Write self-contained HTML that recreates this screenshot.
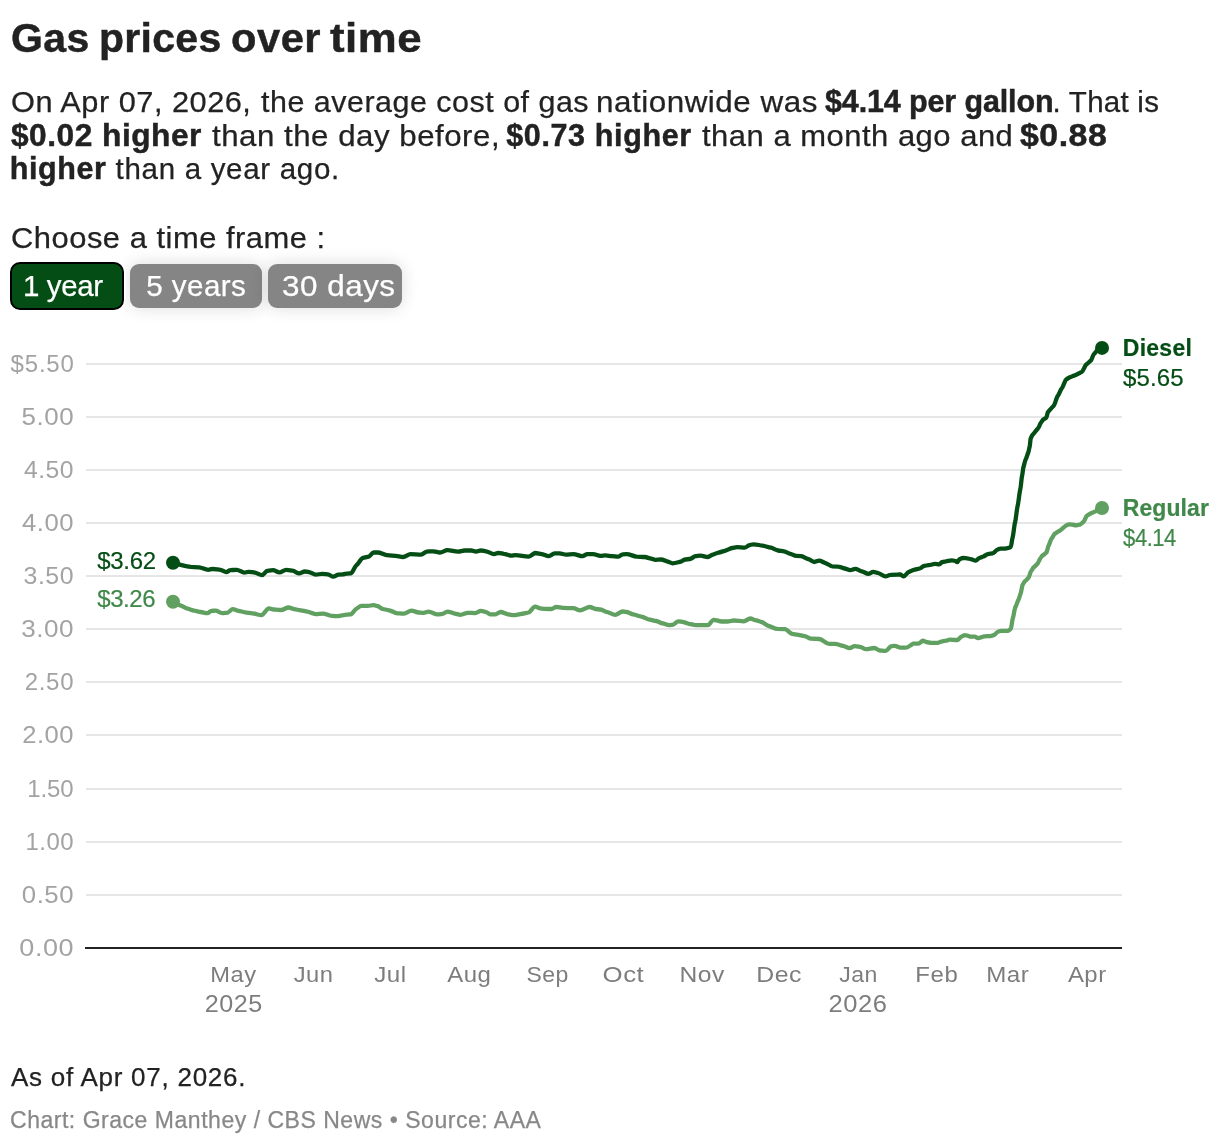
<!DOCTYPE html>
<html lang="en">
<head>
<meta charset="utf-8">
<title>Gas prices over time</title>
<style>
html,body{margin:0;padding:0;background:#fff;}
body{width:1220px;height:1146px;position:relative;overflow:hidden;font-family:"Liberation Sans",sans-serif;color:#222;}
h1,p{margin:0;font-weight:400;}
.t{position:absolute;white-space:pre;line-height:1;transform-origin:0 0;-webkit-text-stroke:0.25px currentColor;}
h1 .t{-webkit-text-stroke-width:0.45px;}
h1 .t{font-size:41px;font-weight:700;}
.intro .t,.choose .t,.btn .t{font-size:29.5px;}
b.t{font-weight:700;-webkit-text-stroke-width:0.45px;}
.intro b.t{font-size:30.5px;}
.btn{position:absolute;top:264px;height:44px;box-sizing:border-box;border-radius:9px;background:#858585;color:#fff;box-shadow:0 0 17px 0 rgba(0,0,0,.14);}
.btn.on{top:262px;height:48px;background:#044d14;border:2px solid #000;border-radius:10px;box-shadow:0 0 0 1.5px #fff;z-index:2;}
svg{position:absolute;left:0;top:0;}
svg text{white-space:pre;stroke-width:0.2px;}
.notes .t{font-size:26px;}
.byline .t{font-size:23px;color:#888;}
</style>
</head>
<body>
<h1><span class="t" style="left:11.10px;top:18px;letter-spacing:0.350px">Gas</span> <span class="t" style="left:99.00px;top:18px;letter-spacing:0.280px">prices</span> <span class="t" style="left:230.58px;top:18px;letter-spacing:0.480px;transform:scaleX(1.0169)">over</span> <span class="t" style="left:329.90px;top:18px;letter-spacing:0.480px;transform:scaleX(1.0682)">time</span></h1>
<p class="intro"><span class="t" style="left:10.76px;top:87px;letter-spacing:0.480px;transform:scaleX(1.0418)">On Apr 07, 2026,</span> <span class="t" style="left:260.50px;top:87px;letter-spacing:0.480px;transform:scaleX(1.0327)">the average cost of gas</span> <span class="t" style="left:595.67px;top:87px;letter-spacing:0.480px;transform:scaleX(1.0646)">nationwide was</span> <b class="t" style="left:825.00px;top:86px;letter-spacing:-0.133px">$4.14 per gallon</b><span class="t" style="left:1052.50px;top:87px;letter-spacing:0.250px">. That is</span>
<b class="t" style="left:11.20px;top:120px;letter-spacing:0.480px;transform:scaleX(1.0388)">$0.02 higher</b> <span class="t" style="left:211.50px;top:121px;letter-spacing:0.480px;transform:scaleX(1.0590)">than the day before,</span> <b class="t" style="left:506.20px;top:120px;letter-spacing:0.636px">$0.73 higher</b> <span class="t" style="left:701.80px;top:121px;letter-spacing:0.480px;transform:scaleX(1.0496)">than a month ago and</span> <b class="t" style="left:1020.30px;top:120px;letter-spacing:0.480px;transform:scaleX(1.1089)">$0.88</b>
<b class="t" style="left:9.80px;top:153px;letter-spacing:0.580px">higher</b> <span class="t" style="left:115.60px;top:154px;letter-spacing:0.693px">than a year ago.</span></p>
<p class="choose"><span class="t" style="left:10.65px;top:223px;letter-spacing:0.480px;transform:scaleX(1.0479)">Choose a time frame :</span></p>
<div class="btns">
<div class="btn on" style="left:10px;width:114px"><span class="t" style="left:11.00px;top:7px;letter-spacing:-0.400px">1 year</span></div>
<div class="btn" style="left:130px;width:132px"><span class="t" style="left:16.20px;top:7px;letter-spacing:0.483px">5 years</span></div>
<div class="btn" style="left:268px;width:134px"><span class="t" style="left:14.44px;top:7px;letter-spacing:0.480px;transform:scaleX(1.0647)">30 days</span></div>
</div>
<svg width="1220" height="1146" viewBox="0 0 1220 1146" font-family="Liberation Sans, sans-serif">
<g fill="#e6e6e6"><rect x="86" y="894" width="1036" height="2"/><rect x="86" y="841" width="1036" height="2"/><rect x="86" y="788" width="1036" height="2"/><rect x="86" y="734" width="1036" height="2"/><rect x="86" y="681" width="1036" height="2"/><rect x="86" y="628" width="1036" height="2"/><rect x="86" y="575" width="1036" height="2"/><rect x="86" y="522" width="1036" height="2"/><rect x="86" y="469" width="1036" height="2"/><rect x="86" y="416" width="1036" height="2"/><rect x="86" y="363" width="1036" height="2"/></g>
<rect x="85" y="947" width="1037" height="2" fill="#222"/>
<text x="10.60" y="372.3" font-size="24" letter-spacing="0.800" fill="#a3a3a3">$5.50</text>
<text transform="translate(21.52,425.3) scale(1.0810,1)" font-size="24" letter-spacing="0.480" fill="#a3a3a3">5.00</text>
<text transform="translate(23.90,478.3) scale(1.0308,1)" font-size="24" letter-spacing="0.480" fill="#a3a3a3">4.50</text>
<text transform="translate(22.00,531.3) scale(1.0708,1)" font-size="24" letter-spacing="0.480" fill="#a3a3a3">4.00</text>
<text transform="translate(23.56,584.3) scale(1.0379,1)" font-size="24" letter-spacing="0.480" fill="#a3a3a3">3.50</text>
<text transform="translate(21.21,637.3) scale(1.0874,1)" font-size="24" letter-spacing="0.480" fill="#a3a3a3">3.00</text>
<text x="24.70" y="690.3" font-size="24" letter-spacing="0.700" fill="#a3a3a3">2.50</text>
<text transform="translate(22.13,743.3) scale(1.0680,1)" font-size="24" letter-spacing="0.480" fill="#a3a3a3">2.00</text>
<text x="27.30" y="797.3" font-size="24" letter-spacing="-0.167" fill="#a3a3a3">1.50</text>
<text x="25.50" y="850.3" font-size="24" letter-spacing="0.433" fill="#a3a3a3">1.00</text>
<text transform="translate(21.83,903.3) scale(1.0745,1)" font-size="24" letter-spacing="0.480" fill="#a3a3a3">0.50</text>
<text transform="translate(19.37,956.3) scale(1.1262,1)" font-size="24" letter-spacing="0.480" fill="#a3a3a3">0.00</text>
<text transform="translate(210.29,982.3) scale(1.0534,1)" font-size="22.5" letter-spacing="0.480" fill="#7d7d7d">May</text>
<text transform="translate(293.70,982.3) scale(1.0539,1)" font-size="22.5" letter-spacing="0.480" fill="#7d7d7d">Jun</text>
<text transform="translate(374.20,982.3) scale(1.0730,1)" font-size="22.5" letter-spacing="0.480" fill="#7d7d7d">Jul</text>
<text transform="translate(447.20,982.3) scale(1.0686,1)" font-size="22.5" letter-spacing="0.480" fill="#7d7d7d">Aug</text>
<text transform="translate(526.38,982.3) scale(1.0241,1)" font-size="22.5" letter-spacing="0.480" fill="#7d7d7d">Sep</text>
<text transform="translate(602.55,982.3) scale(1.1470,1)" font-size="22.5" letter-spacing="0.480" fill="#7d7d7d">Oct</text>
<text transform="translate(679.51,982.3) scale(1.0960,1)" font-size="22.5" letter-spacing="0.480" fill="#7d7d7d">Nov</text>
<text transform="translate(756.19,982.3) scale(1.1064,1)" font-size="22.5" letter-spacing="0.480" fill="#7d7d7d">Dec</text>
<text transform="translate(839.20,982.3) scale(1.0261,1)" font-size="22.5" letter-spacing="0.480" fill="#7d7d7d">Jan</text>
<text transform="translate(915.37,982.3) scale(1.0660,1)" font-size="22.5" letter-spacing="0.480" fill="#7d7d7d">Feb</text>
<text transform="translate(986.26,982.3) scale(1.0722,1)" font-size="22.5" letter-spacing="0.480" fill="#7d7d7d">Mar</text>
<text transform="translate(1067.90,982.3) scale(1.0623,1)" font-size="22.5" letter-spacing="0.480" fill="#7d7d7d">Apr</text>
<text transform="translate(204.73,1011.8) scale(1.0698,1)" font-size="23.5" letter-spacing="0.480" fill="#7d7d7d">2025</text>
<text transform="translate(828.51,1011.8) scale(1.0867,1)" font-size="23.5" letter-spacing="0.480" fill="#7d7d7d">2026</text>
<text x="97.20" y="568.8" font-size="24" letter-spacing="-0.300" fill="#044d14" stroke="#044d14">$3.62</text>
<text x="97.20" y="606.9" font-size="24" letter-spacing="-0.400" fill="#40884a" stroke="#40884a">$3.26</text>
<text x="1122.80" y="355.9" font-size="23" letter-spacing="0.260" fill="#044d14" stroke="#044d14" stroke-width="0.4" font-weight="700">Diesel</text>
<text x="1123.10" y="385.9" font-size="24" letter-spacing="0.125" fill="#044d14" stroke="#044d14">$5.65</text>
<text x="1122.80" y="515.9" font-size="23" letter-spacing="0.067" fill="#40884a" stroke="#40884a" stroke-width="0.4" font-weight="700">Regular</text>
<text transform="translate(1123.10,545.9) scale(0.9160,1)" font-size="24" letter-spacing="-0.480" fill="#40884a" stroke="#40884a">$4.14</text>
<path d="M173.0,601.6C175.7,603.0 178.4,605.1 181.1,605.7C183.3,606.3 185.5,608.3 187.7,608.7C189.9,609.1 192.1,610.4 194.3,610.7C196.4,610.9 198.6,611.8 200.8,612.0C203.0,612.2 205.2,613.1 207.4,613.1C208.7,613.1 210.1,610.9 211.5,610.8C212.8,610.8 214.2,610.7 215.6,610.7C217.8,610.7 219.9,613.1 222.1,613.1C223.8,613.1 225.4,612.9 227.0,612.8C229.0,612.7 230.9,609.2 232.8,609.2C234.7,609.2 236.6,610.6 238.5,610.8C240.7,611.1 242.9,612.1 245.1,612.3C247.5,612.5 250.0,613.1 252.5,613.3C255.5,613.5 258.5,615.2 261.5,615.2C263.9,615.2 266.4,608.4 268.9,608.4C270.5,608.4 272.1,609.4 273.8,609.5C276.2,609.7 278.7,610.0 281.1,610.0C283.6,610.0 286.1,607.5 288.5,607.5C290.4,607.5 292.3,609.0 294.3,609.2C296.4,609.4 298.6,610.1 300.8,610.3C303.0,610.5 305.2,611.4 307.4,611.6C310.1,612.0 312.8,614.1 315.6,614.1C318.0,614.1 320.5,613.6 323.0,613.6C325.4,613.6 327.9,615.4 330.3,615.6C332.2,615.7 334.2,616.1 336.1,616.1C338.5,616.1 341.0,615.5 343.4,615.2C343.9,615.2 344.4,615.0 344.9,614.9C346.8,614.8 348.7,614.6 350.7,614.4C352.6,614.3 354.5,609.4 356.4,608.7C358.0,608.1 359.7,605.9 361.3,605.9C363.5,605.9 365.7,605.9 367.9,605.9C369.8,605.9 371.7,605.1 373.6,605.1C375.0,605.1 376.3,605.9 377.7,606.2C379.3,606.6 381.0,608.7 382.6,609.0C384.8,609.5 387.0,610.0 389.2,610.3C391.9,610.7 394.6,613.1 397.4,613.3C399.6,613.4 401.7,613.6 403.9,613.6C406.4,613.6 408.9,610.7 411.3,610.7C413.8,610.7 416.2,612.3 418.7,612.5C420.3,612.6 422.0,612.8 423.6,612.8C425.2,612.8 426.9,611.6 428.5,611.6C431.5,611.6 434.5,614.4 437.5,614.4C439.2,614.4 440.8,614.1 442.5,613.9C444.1,613.8 445.7,611.6 447.4,611.6C449.8,611.6 452.3,613.3 454.8,613.6C456.7,613.8 458.6,614.8 460.5,614.8C463.0,614.8 465.4,612.8 467.9,612.8C470.3,612.8 472.8,613.1 475.2,613.1C477.2,613.1 479.1,610.8 481.0,610.8C482.6,610.8 484.3,611.7 485.9,612.0C487.5,612.3 489.2,614.4 490.8,614.4C492.2,614.4 493.6,614.4 494.9,614.4C496.8,614.4 498.7,612.0 500.7,612.0C502.8,612.0 505.0,613.8 507.2,614.1C509.4,614.4 511.6,615.2 513.8,615.2C516.0,615.2 518.1,614.3 520.3,614.1C523.1,613.8 525.8,613.0 528.5,612.5C530.7,612.0 532.9,606.7 535.1,606.7C537.2,606.7 539.3,608.6 541.5,608.7C544.8,608.8 548.0,609.0 551.3,609.0C553.0,609.0 554.6,607.0 556.2,607.0C558.4,607.0 560.6,607.8 562.8,607.9C566.3,608.0 569.9,608.1 573.4,608.2C575.6,608.3 577.8,610.3 580.0,610.3C583.3,610.3 586.6,607.0 589.8,607.0C591.7,607.0 593.7,608.8 595.6,609.0C597.2,609.2 598.9,609.3 600.5,609.5C602.7,609.7 604.9,611.6 607.0,612.0C609.8,612.5 612.5,614.8 615.2,614.8C617.7,614.8 620.2,611.5 622.6,611.5C624.0,611.5 625.4,611.8 626.7,612.0C628.9,612.2 631.1,614.1 633.3,614.4C636.0,614.9 638.7,616.1 641.5,616.6C644.2,617.0 646.9,619.3 649.7,619.7C651.9,620.0 654.0,620.7 656.2,621.0C658.4,621.3 660.6,623.1 662.8,623.4C665.0,623.8 667.2,625.1 669.3,625.1C670.4,625.1 671.5,624.9 672.6,624.8C674.5,624.6 676.4,621.3 678.4,621.3C680.0,621.3 681.6,621.9 683.3,622.1C685.2,622.3 687.1,623.5 689.0,623.8C691.2,624.0 693.4,625.1 695.6,625.1C699.7,625.1 703.8,625.1 707.9,625.1C709.8,625.1 711.7,619.8 713.6,619.8C716.3,619.8 719.1,621.5 721.8,621.5C723.7,621.5 725.5,621.5 727.4,621.5C729.6,621.5 731.7,620.5 733.9,620.5C737.2,620.5 740.5,621.3 743.8,621.3C746.0,621.3 748.1,618.5 750.3,618.5C752.0,618.5 753.6,619.9 755.2,620.2C757.2,620.5 759.1,621.4 761.0,621.8C763.7,622.3 766.4,625.6 769.2,626.2C771.9,626.8 774.6,628.7 777.4,628.9C779.9,629.0 782.4,629.1 784.9,629.2C787.4,629.3 789.8,633.3 792.3,633.8C796.4,634.5 800.5,635.4 804.6,636.1C806.8,636.4 809.0,638.6 811.1,638.7C813.9,638.8 816.6,638.9 819.3,639.0C822.6,639.1 825.9,643.9 829.2,643.9C831.1,643.9 833.0,643.9 834.9,643.9C837.7,643.9 840.4,645.5 843.1,645.9C845.3,646.2 847.5,648.0 849.7,648.0C851.3,648.0 853.0,646.1 854.6,646.1C856.5,646.1 858.4,646.6 860.3,646.9C862.2,647.1 864.2,649.2 866.1,649.2C868.8,649.2 871.5,648.0 874.3,648.0C876.2,648.0 878.1,650.4 880.0,650.5C881.9,650.6 883.8,650.8 885.7,650.8C887.7,650.8 889.6,646.2 891.5,646.1C892.6,646.0 893.7,645.9 894.8,645.9C896.7,645.9 898.6,647.7 900.5,647.7C902.4,647.7 904.3,647.7 906.2,647.7C908.4,647.7 910.6,644.8 912.8,643.9C912.9,643.9 913.0,643.7 913.1,643.7C914.9,643.7 916.6,643.7 918.4,643.7C919.9,643.7 921.4,640.7 923.0,640.7C924.0,640.7 925.1,641.8 926.2,642.0C928.0,642.2 929.7,642.9 931.5,642.9C933.4,642.9 935.4,642.9 937.4,642.9C938.9,642.9 940.4,641.5 942.0,641.3C943.3,641.1 944.6,640.8 945.9,640.7C947.2,640.5 948.5,639.6 949.8,639.6C952.2,639.6 954.6,640.0 957.0,640.0C958.6,640.0 960.1,636.9 961.6,636.5C962.7,636.2 963.8,635.1 964.9,635.1C965.8,635.1 966.7,635.6 967.5,635.7C968.6,635.8 969.7,636.7 970.8,636.7C972.1,636.7 973.4,636.7 974.8,636.7C975.8,636.7 976.9,638.0 978.0,638.0C980.2,638.0 982.4,636.4 984.6,636.3C986.6,636.2 988.5,636.2 990.5,636.1C991.6,636.0 992.7,635.4 993.8,635.1C995.3,634.8 996.8,631.8 998.4,631.5C999.2,631.3 1000.1,630.8 1001.0,630.8C1003.2,630.8 1005.4,630.8 1007.5,630.8C1008.6,630.8 1009.7,629.5 1010.8,628.9C1011.5,628.5 1012.1,620.0 1012.8,618.4C1013.7,616.2 1014.5,608.7 1015.4,607.2C1016.5,605.3 1017.6,600.9 1018.7,599.3C1019.3,598.4 1020.0,594.6 1020.7,593.4C1021.3,592.2 1022.0,585.9 1022.6,584.9C1023.5,583.6 1024.4,581.5 1025.2,581.0C1026.3,580.3 1027.4,578.7 1028.5,577.7C1029.4,576.9 1030.3,572.0 1031.1,571.1C1032.0,570.3 1032.9,567.7 1033.8,567.2C1034.9,566.5 1036.0,565.0 1037.0,564.3C1038.4,563.5 1039.7,558.3 1041.0,557.4C1041.4,557.1 1041.8,556.0 1042.3,555.7C1043.6,554.9 1045.0,553.6 1046.4,552.6C1047.1,552.0 1047.8,546.8 1048.5,545.8C1049.6,544.2 1050.6,539.4 1051.7,538.4C1052.7,537.4 1053.8,534.3 1054.8,533.7C1056.2,532.9 1057.6,531.6 1059.0,531.1C1061.8,530.2 1064.6,525.3 1067.4,524.8C1068.4,524.6 1069.5,524.3 1070.5,524.3C1072.4,524.3 1074.4,525.3 1076.3,525.3C1077.7,525.3 1079.1,524.6 1080.5,524.3C1081.5,524.0 1082.6,522.4 1083.6,521.7C1084.7,520.9 1085.9,516.2 1087.0,515.6C1089.1,514.5 1091.2,512.8 1093.3,512.3C1096.2,511.5 1099.1,509.3 1102.0,507.9" fill="none" stroke="#60a060" stroke-width="4.3" stroke-linejoin="round" stroke-linecap="round"/>
<path d="M173.0,562.8C179.0,564.2 185.0,566.5 191.0,566.9C193.7,567.0 196.4,567.2 199.2,567.4C202.2,567.6 205.2,569.8 208.2,569.8C209.6,569.8 210.9,569.0 212.3,569.0C215.0,569.0 217.8,569.6 220.5,569.8C222.4,570.0 224.3,572.1 226.2,572.1C227.6,572.1 229.0,570.2 230.3,570.2C232.5,570.1 234.7,569.8 236.9,569.8C239.3,569.8 241.8,572.6 244.3,572.6C245.6,572.6 247.0,571.8 248.4,571.8C250.5,571.8 252.7,572.4 254.9,572.6C257.3,572.9 259.6,575.1 262.0,575.1C263.7,575.1 265.5,571.2 267.2,571.0C269.1,570.7 271.0,570.2 273.0,570.2C275.1,570.2 277.3,572.3 279.5,572.3C281.7,572.3 283.9,569.8 286.1,569.8C288.3,569.8 290.4,570.4 292.6,570.7C294.8,570.9 297.0,573.4 299.2,573.4C301.1,573.4 303.0,571.5 304.9,571.5C306.6,571.5 308.2,572.1 309.8,572.3C311.7,572.6 313.7,574.6 315.6,574.6C317.8,574.6 319.9,573.9 322.1,573.9C324.0,573.9 326.0,574.2 327.9,574.3C329.7,574.4 331.5,576.7 333.3,576.7C335.0,576.7 336.8,574.7 338.5,574.6C340.2,574.5 341.8,574.4 343.4,574.3C343.9,574.2 344.4,574.0 344.9,573.9C346.8,573.8 348.7,573.6 350.7,573.4C352.6,573.3 354.5,566.5 356.4,565.2C358.6,563.8 360.8,558.4 363.0,557.9C364.9,557.4 366.8,557.0 368.7,556.6C370.3,556.2 372.0,552.5 373.6,552.5C375.0,552.5 376.3,552.5 377.7,552.5C380.7,552.5 383.7,554.8 386.7,555.1C389.7,555.4 392.7,555.7 395.7,555.9C398.2,556.1 400.7,557.0 403.1,557.0C405.6,557.0 408.0,554.1 410.5,554.1C414.0,554.1 417.6,554.6 421.1,554.6C423.1,554.6 425.0,551.7 426.9,551.6C429.1,551.5 431.3,551.3 433.4,551.3C435.6,551.3 437.8,552.5 440.0,552.5C442.5,552.5 444.9,550.2 447.4,550.2C450.9,550.2 454.5,551.6 458.0,551.6C460.2,551.6 462.4,550.5 464.6,550.5C466.8,550.5 469.0,550.5 471.1,550.5C472.8,550.5 474.4,551.6 476.1,551.6C477.7,551.6 479.3,550.5 481.0,550.5C482.6,550.5 484.3,551.1 485.9,551.3C488.6,551.6 491.4,554.1 494.1,554.1C495.5,554.1 496.8,553.0 498.2,553.0C500.1,553.0 502.0,553.6 503.9,553.8C506.4,554.0 508.9,555.7 511.3,555.7C512.7,555.7 514.0,555.1 515.4,555.1C519.8,555.1 524.2,556.6 528.5,556.6C530.4,556.6 532.3,554.1 534.3,553.4C534.5,553.4 534.7,553.0 534.9,553.0C537.1,553.0 539.3,553.8 541.5,554.1C543.9,554.4 546.4,556.2 548.9,556.2C550.8,556.2 552.7,553.4 554.6,553.4C556.2,553.4 557.9,553.4 559.5,553.4C561.7,553.4 563.9,554.6 566.1,554.6C568.5,554.6 571.0,554.1 573.4,554.1C576.4,554.1 579.5,556.2 582.5,556.2C584.1,556.2 585.7,554.1 587.4,554.1C589.3,554.1 591.2,554.1 593.1,554.1C595.6,554.1 598.0,555.9 600.5,555.9C602.1,555.9 603.8,555.4 605.4,555.4C607.6,555.4 609.8,556.1 612.0,556.2C614.2,556.3 616.3,556.7 618.5,556.7C619.9,556.7 621.3,554.3 622.6,554.3C624.0,554.2 625.4,554.1 626.7,554.1C630.0,554.1 633.3,556.4 636.6,556.6C639.3,556.7 642.0,556.9 644.8,557.0C646.9,557.2 649.1,558.4 651.3,558.7C652.7,558.9 654.0,559.8 655.4,559.8C657.3,559.8 659.2,559.5 661.1,559.5C663.3,559.5 665.5,561.3 667.7,561.6C669.3,561.9 671.0,563.3 672.6,563.3C675.4,563.3 678.1,562.2 680.8,561.6C682.2,561.4 683.6,559.6 684.9,559.5C686.6,559.3 688.2,559.2 689.8,559.0C691.7,558.8 693.7,556.4 695.6,556.2C697.2,556.1 698.9,555.7 700.5,555.7C703.0,555.7 705.4,557.0 707.9,557.0C709.5,557.0 711.1,554.9 712.8,554.6C714.7,554.2 716.6,552.9 718.5,552.6C720.7,552.3 722.8,551.2 724.9,550.8C727.4,550.4 729.8,548.3 732.3,548.0C733.9,547.8 735.6,547.2 737.2,547.2C739.7,547.2 742.1,547.7 744.6,547.7C746.2,547.7 747.9,545.4 749.5,545.1C750.9,544.8 752.2,544.3 753.6,544.3C756.6,544.3 759.6,545.3 762.6,545.6C765.4,545.9 768.1,547.3 770.8,547.7C773.3,548.1 775.7,550.2 778.2,550.5C780.1,550.7 782.0,551.1 783.9,551.3C786.1,551.6 788.3,553.4 790.5,553.8C792.4,554.1 794.3,555.8 796.2,555.9C797.9,556.0 799.5,556.1 801.1,556.2C803.6,556.4 806.1,558.6 808.5,559.2C810.4,559.6 812.3,562.0 814.3,562.0C815.9,562.0 817.5,560.7 819.2,560.7C821.1,560.7 823.0,562.4 824.9,562.8C827.4,563.3 829.8,566.3 832.3,566.4C834.2,566.4 836.1,566.5 838.0,566.6C840.2,566.6 842.4,568.2 844.6,568.5C846.5,568.8 848.4,570.2 850.3,570.2C852.0,570.2 853.6,568.9 855.2,568.9C857.4,568.9 859.6,570.9 861.8,571.3C864.0,571.7 866.2,573.8 868.4,573.8C870.0,573.8 871.6,571.8 873.3,571.8C874.9,571.8 876.6,572.7 878.2,573.0C880.7,573.4 883.1,576.4 885.6,576.4C887.2,576.4 888.9,574.8 890.5,574.8C893.0,574.7 895.4,574.6 897.9,574.6C898.6,574.6 899.3,574.4 900.0,574.4C901.2,574.4 902.4,576.4 903.7,576.4C905.3,576.4 906.9,572.6 908.5,572.1C910.1,571.6 911.6,570.4 913.1,570.1C915.3,569.7 917.5,569.0 919.7,568.5C921.2,568.2 922.7,566.2 924.3,565.9C926.2,565.6 928.2,565.0 930.2,564.9C931.7,564.7 933.2,563.9 934.8,563.9C936.3,563.9 937.8,564.3 939.3,564.3C940.2,564.3 941.1,562.4 942.0,562.2C943.3,561.9 944.6,561.4 945.9,561.3C947.9,561.1 949.8,560.4 951.8,560.4C952.9,560.4 954.0,560.7 955.1,560.9C955.8,561.0 956.6,562.2 957.3,562.2C958.1,562.2 958.9,559.2 959.7,559.0C960.8,558.6 961.9,558.0 963.0,558.0C964.3,558.0 965.6,558.2 966.9,558.3C968.2,558.4 969.5,558.9 970.8,559.1C972.4,559.3 974.1,560.7 975.7,560.7C976.9,560.7 978.1,558.4 979.3,558.0C980.7,557.7 982.0,556.8 983.3,556.5C984.8,556.1 986.3,554.3 987.9,554.1C989.4,553.9 990.9,553.7 992.5,553.4C994.2,553.2 996.0,549.9 997.7,549.5C998.6,549.3 999.5,548.6 1000.3,548.6C1001.9,548.6 1003.4,548.6 1004.9,548.6C1006.9,548.6 1008.9,547.6 1010.8,547.1C1011.3,547.0 1011.9,539.9 1012.4,538.4C1013.3,536.0 1014.2,525.4 1015.0,522.7C1015.9,520.0 1016.8,508.8 1017.6,506.0C1018.5,503.2 1019.4,492.2 1020.3,489.2C1020.9,487.1 1021.5,477.8 1022.1,475.6C1022.6,474.2 1023.0,468.4 1023.4,467.2C1024.1,465.3 1024.8,461.0 1025.5,459.9C1026.5,458.4 1027.5,454.0 1028.4,452.0C1028.8,451.2 1029.3,447.6 1029.7,446.3C1030.0,445.2 1030.4,439.1 1030.7,438.4C1031.3,437.3 1031.9,435.5 1032.5,435.0C1034.4,433.3 1036.3,429.8 1038.2,428.1C1039.2,427.3 1040.1,423.1 1041.1,422.4C1041.8,421.8 1042.6,419.9 1043.4,419.5C1044.3,419.1 1045.3,418.4 1046.2,417.8C1046.8,417.4 1047.4,412.7 1048.0,412.1C1049.9,409.9 1051.8,407.5 1053.7,405.7C1055.0,404.5 1056.4,397.4 1057.7,396.0C1059.0,394.6 1060.4,389.8 1061.7,388.5C1063.3,387.1 1064.8,380.2 1066.3,379.3C1067.7,378.6 1069.0,377.4 1070.3,377.1C1071.9,376.7 1073.4,375.7 1074.9,375.3C1077.2,374.8 1079.5,373.0 1081.8,371.9C1083.3,371.1 1084.9,365.4 1086.4,364.4C1087.9,363.5 1089.5,361.7 1091.0,360.4C1091.9,359.6 1092.9,354.9 1093.9,354.1C1095.2,353.0 1096.5,350.6 1097.9,350.1C1099.2,349.6 1100.6,348.6 1102.0,347.9" fill="none" stroke="#044d14" stroke-width="4.3" stroke-linejoin="round" stroke-linecap="round"/>
<circle cx="173" cy="601.7" r="7" fill="#60a060"/>
<circle cx="1102" cy="508" r="7" fill="#60a060"/>
<circle cx="173" cy="562.7" r="7" fill="#044d14"/>
<circle cx="1102" cy="347.9" r="7" fill="#044d14"/>
</svg>
<p class="notes"><span class="t" style="left:11.00px;top:1064px;letter-spacing:0.739px">As of Apr 07, 2026.</span></p>
<p class="byline"><span class="t" style="left:10.00px;top:1109px;letter-spacing:0.523px">Chart: Grace Manthey / CBS News &bull; Source: AAA</span></p>
</body>
</html>
